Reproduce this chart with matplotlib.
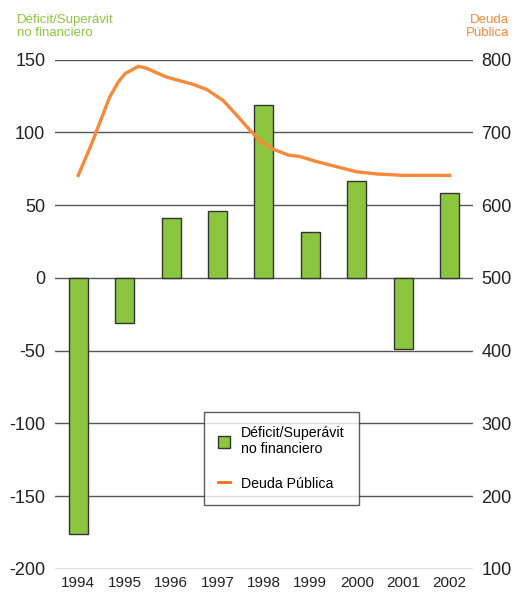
import numpy as np
import matplotlib.pyplot as plt
from matplotlib.patches import Patch
from matplotlib.lines import Line2D

plt.rcParams['font.family'] = ['Liberation Sans', 'DejaVu Sans']

years = [1994, 1995, 1996, 1997, 1998, 1999, 2000, 2001, 2002]
deficit = [-176, -31, 41.3, 46.1, 118.6, 31.4, 66.5, -48.9, 58.5]

# deuda publica (fecha fraccional, valor)
deuda_t = [1994.0, 1994.26, 1994.40, 1994.54, 1994.68, 1994.87, 1995.01, 1995.30,
           1995.48, 1995.69, 1995.91, 1996.19, 1996.48, 1996.77, 1997.12, 1997.41,
           1997.70, 1997.91, 1998.20, 1998.52, 1998.77, 1999.13, 1999.56, 1999.99,
           2000.42, 2001.0, 2002.0]
deuda = [641, 680, 703, 726, 749, 770, 781, 791, 788, 782, 776, 771, 766, 759,
         744, 724, 703, 689, 677, 669, 667, 660, 653, 646, 643, 641, 641]

left_ticks = [-200, -150, -100, -50, 0, 50, 100, 150]
right_ticks = [100, 200, 300, 400, 500, 600, 700, 800]

green = '#8cc63f'
orange = '#f7893b'
grid_c = '#555555'

fig = plt.figure(figsize=(5.14, 5.97), dpi=100)
ax = fig.add_axes([0.107, 0.047, 0.813, 0.853])
ax.set_xlim(1993.5, 2002.5)
ax.set_ylim(-200, 150)
for t in left_ticks:
    ax.axhline(t, color=grid_c, lw=1.0, zorder=1)
ax.bar(years, deficit, width=0.41, color=green, edgecolor='#333333', linewidth=1.0, zorder=3)

ax2 = ax.twinx()
ax2.set_ylim(100, 800)
ax2.plot(deuda_t, deuda, color=orange, lw=2.4, zorder=4)

for a in (ax, ax2):
    for s in a.spines.values():
        s.set_visible(False)
    a.tick_params(length=0)

ax.set_yticks(left_ticks)
ax.set_yticklabels([str(t) for t in left_ticks], fontsize=13, color='#222222')
ax.tick_params(axis='y', pad=7)
ax2.set_yticks(right_ticks)
ax2.set_yticklabels([str(t) for t in right_ticks], fontsize=13, color='#222222')
ax2.tick_params(axis='y', pad=6)
ax.set_xticks(years)
ax.set_xticklabels([str(y) for y in years], fontsize=11, color='#222222')
ax.tick_params(axis='x', pad=5)

fig.text(0.033, 0.977, 'Déficit/Superávit\nno financiero', color=green, fontsize=9.5,
         ha='left', va='top', linespacing=1.15)
fig.text(0.99, 0.977, 'Deuda\nPública', color=orange, fontsize=9.5,
         ha='right', va='top', linespacing=1.15, multialignment='right')

handles = [Patch(facecolor=green, edgecolor='#333333', label='Déficit/Superávit\nno financiero'),
           Line2D([0], [0], color='#ff6a13', lw=2, label='Deuda Pública')]
leg = ax2.legend(handles=handles, loc='upper left', bbox_to_anchor=(0.397, 0.31),
                 bbox_transform=fig.transFigure,
                 frameon=True, fancybox=False, fontsize=10.2, handlelength=0.8,
                 handleheight=1.0, borderpad=1.0, labelspacing=1.45, handletextpad=0.8,
                 borderaxespad=0)
leg.get_frame().set_edgecolor('#333333')
leg.get_frame().set_linewidth(1.0)
leg.set_zorder(10)

plt.savefig('out.png', dpi=100)
